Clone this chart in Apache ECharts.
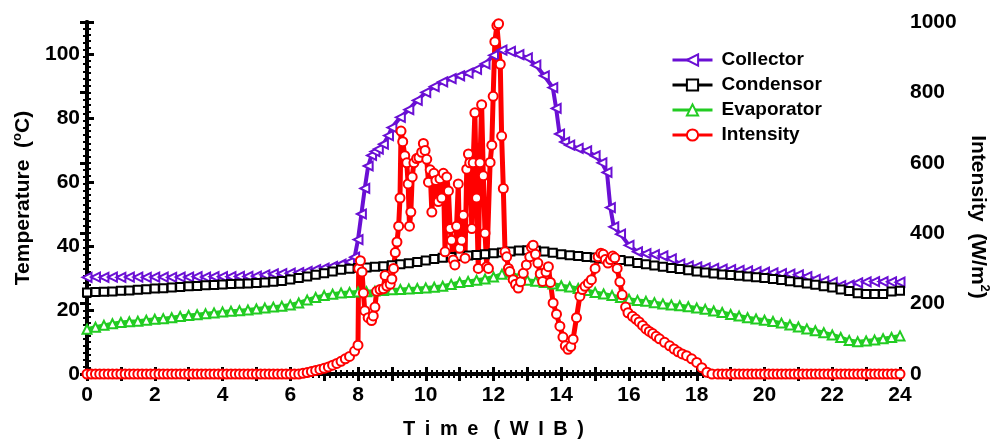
<!DOCTYPE html>
<html>
<head>
<meta charset="utf-8">
<script src="https://cdn.jsdelivr.net/npm/echarts@6/dist/echarts.min.js"></script>
<style>
html,body{margin:0;padding:0;background:#fff;}
#chart{width:993px;height:441px;}
</style>
</head>
<body>
<div id="chart"></div>
<script>
// ---- data (time in hours, WIB) ----
const collector = [[0,30.2],[0.25,30.3],[0.5,30.2],[0.75,30.3],[1,30.2],[1.25,30.3],[1.5,30.3],[1.75,30.2],[2,30.3],[2.25,30.3],[2.5,30.2],[2.75,30.3],[3,30.3],[3.25,30.4],[3.5,30.3],[3.75,30.4],[4,30.4],[4.25,30.4],[4.5,30.5],[4.75,30.5],[5,30.6],[5.25,31.0],[5.5,31.3],[5.75,31.4],[6,31.5],[6.25,31.7],[6.5,32.1],[6.75,32.6],[7,33.1],[7.25,33.6],[7.5,34.3],[7.75,35.0],[7.9,36.5],[8,42],[8.1,50],[8.2,58],[8.3,65],[8.4,68.3],[8.5,69.5],[8.6,70.3],[8.75,71.8],[8.9,74.5],[9,77],[9.25,80.2],[9.5,82.6],[9.75,85.5],[10,88],[10.25,89.8],[10.5,91.3],[10.75,92.3],[11,93.2],[11.25,94],[11.5,95.2],[11.75,96.9],[12,99.6],[12.25,101.2],[12.5,100.8],[12.75,99.8],[13,98.8],[13.25,96.5],[13.5,93.2],[13.75,89.5],[13.85,83],[13.95,75],[14.1,72.5],[14.25,71.5],[14.5,70.5],[14.75,69.7],[15,68.2],[15.2,66],[15.35,63],[15.45,52],[15.55,46],[15.75,43.7],[16,40.2],[16.25,38.2],[16.5,37.6],[16.75,37.3],[17,36.9],[17.25,36.0],[17.5,34.4],[17.75,33.8],[18,33.5],[18.25,33.2],[18.5,33.0],[18.75,32.8],[19,32.6],[19.25,32.4],[19.5,32.2],[19.75,32.0],[20,31.8],[20.25,31.6],[20.5,31.4],[20.75,31.2],[21,31.0],[21.25,30.4],[21.5,29.6],[21.75,29.0],[22,28.6],[22.25,27.6],[22.5,27.8],[22.75,28.5],[23,28.8],[23.25,28.9],[23.5,28.9],[23.75,28.8],[24,28.7]];

const condensor = [[0,25.5],[0.25,25.6],[0.5,25.7],[0.75,25.8],[1,26.0],[1.25,26.1],[1.5,26.3],[1.75,26.5],[2,26.7],[2.25,26.8],[2.5,27.0],[2.75,27.2],[3,27.4],[3.25,27.5],[3.5,27.7],[3.75,27.8],[4,28.0],[4.25,28.1],[4.5,28.2],[4.75,28.3],[5,28.4],[5.25,28.6],[5.5,28.8],[5.75,29.1],[6,29.5],[6.25,30.0],[6.5,30.5],[6.75,31.0],[7,31.5],[7.25,32.0],[7.5,32.6],[7.75,32.9],[8,33.1],[8.25,33.3],[8.5,33.5],[8.75,33.7],[9,34.0],[9.25,34.3],[9.5,34.6],[9.75,35.0],[10,35.5],[10.25,35.9],[10.5,36.3],[10.75,36.6],[11,36.8],[11.25,37.0],[11.5,37.2],[11.75,37.4],[12,37.7],[12.25,38.0],[12.5,38.3],[12.75,38.6],[13,38.7],[13.25,38.6],[13.5,38.3],[13.75,37.9],[14,37.4],[14.25,37.1],[14.5,36.9],[14.75,36.6],[15,36.4],[15.25,36.1],[15.5,35.9],[15.75,35.6],[16,35.2],[16.25,34.7],[16.5,34.3],[16.75,33.9],[17,33.5],[17.25,33.1],[17.5,32.8],[17.75,32.4],[18,32.0],[18.25,31.7],[18.5,31.4],[18.75,31.1],[19,30.9],[19.25,30.7],[19.5,30.5],[19.75,30.2],[20,30.0],[20.25,29.7],[20.5,29.4],[20.75,29.0],[21,28.7],[21.25,28.3],[21.5,27.9],[21.75,27.4],[22,27.0],[22.25,26.4],[22.5,25.9],[22.75,25.2],[23,25.0],[23.25,25.0],[23.5,25.0],[23.75,25.8],[24,26.0]];

const evaporator = [[0,14.0],[0.25,14.6],[0.5,15.2],[0.75,15.7],[1,16.1],[1.25,16.3],[1.5,16.5],[1.75,16.8],[2,17.1],[2.25,17.3],[2.5,17.6],[2.75,18.0],[3,18.3],[3.25,18.5],[3.5,18.8],[3.75,19.1],[4,19.4],[4.25,19.6],[4.5,19.8],[4.75,20.0],[5,20.3],[5.25,20.6],[5.5,20.9],[5.75,21.2],[6,21.6],[6.25,22.2],[6.5,23.1],[6.75,23.9],[7,24.5],[7.25,24.9],[7.5,25.3],[7.75,25.5],[8,25.6],[8.25,25.7],[8.5,25.9],[8.75,26.1],[9,26.3],[9.25,26.4],[9.5,26.6],[9.75,26.7],[10,26.9],[10.25,27.1],[10.5,27.4],[10.75,28.0],[11,28.6],[11.25,28.9],[11.5,29.3],[11.75,29.7],[12,30.3],[12.25,31.2],[12.5,31.8],[12.75,30.3],[13,29.3],[13.25,29.0],[13.5,28.6],[13.75,28.1],[14,27.6],[14.25,27.2],[14.5,26.7],[14.75,26.1],[15,25.5],[15.25,25.0],[15.5,24.5],[15.75,23.9],[16,23.4],[16.25,23.0],[16.5,22.7],[16.75,22.3],[17,21.9],[17.25,21.6],[17.5,21.3],[17.75,21.0],[18,20.6],[18.25,20.2],[18.5,19.7],[18.75,19.2],[19,18.6],[19.25,18.1],[19.5,17.6],[19.75,17.2],[20,16.8],[20.25,16.4],[20.5,15.9],[20.75,15.3],[21,14.7],[21.25,14.1],[21.5,13.5],[21.75,12.9],[22,12.2],[22.25,11.4],[22.5,10.5],[22.75,10.1],[23,10.3],[23.25,10.6],[23.5,11.0],[23.75,11.4],[24,11.9]];

const intensity = [[0,0],[0.125,0],[0.25,0],[0.375,0],[0.5,0],[0.625,0],[0.75,0],[0.875,0],[1,0],[1.125,0],[1.25,0],[1.375,0],[1.5,0],[1.625,0],[1.75,0],[1.875,0],[2,0],[2.125,0],[2.25,0],[2.375,0],[2.5,0],[2.625,0],[2.75,0],[2.875,0],[3,0],[3.125,0],[3.25,0],[3.375,0],[3.5,0],[3.625,0],[3.75,0],[3.875,0],[4,0],[4.125,0],[4.25,0],[4.375,0],[4.5,0],[4.625,0],[4.75,0],[4.875,0],[5,0],[5.125,0],[5.25,0],[5.375,0],[5.5,0],[5.625,0],[5.75,0],[5.875,0],[6,0],[6.125,0],[6.25,0],[6.375,2],[6.5,4],[6.625,7],[6.75,10],[6.875,13],[7,16],[7.125,20],[7.25,25],[7.375,30],[7.5,36],[7.625,43],[7.75,50],[7.9,65],[8.0,82],[8.02,300],[8.07,322],[8.12,290],[8.16,230],[8.2,180],[8.3,160],[8.4,152],[8.45,165],[8.5,190],[8.55,235],[8.65,240],[8.75,242],[8.8,280],[8.85,250],[8.95,255],[9.0,270],[9.05,300],[9.1,345],[9.15,375],[9.2,420],[9.24,500],[9.27,690],[9.32,660],[9.38,620],[9.44,600],[9.48,540],[9.52,420],[9.56,460],[9.6,560],[9.65,600],[9.73,612],[9.8,615],[9.88,630],[9.93,655],[9.98,635],[10.03,610],[10.08,545],[10.13,580],[10.18,460],[10.24,570],[10.3,550],[10.37,490],[10.42,555],[10.47,500],[10.52,570],[10.57,347],[10.62,560],[10.67,520],[10.72,413],[10.76,380],[10.81,324],[10.86,310],[10.91,420],[10.96,540],[11.0,357],[11.06,380],[11.11,451],[11.16,329],[11.21,582],[11.26,625],[11.3,600],[11.36,413],[11.4,600],[11.45,742],[11.5,500],[11.55,300],[11.6,600],[11.65,765],[11.7,563],[11.75,400],[11.8,305],[11.85,300],[11.9,601],[11.95,650],[11.99,789],[12.04,944],[12.1,990],[12.15,995],[12.2,880],[12.24,676],[12.29,527],[12.34,347],[12.39,333],[12.44,300],[12.48,291],[12.58,268],[12.65,255],[12.73,244],[12.8,262],[12.88,286],[12.97,310],[13.07,333],[13.12,360],[13.17,366],[13.24,340],[13.31,315],[13.38,285],[13.45,263],[13.55,290],[13.62,305],[13.68,260],[13.76,202],[13.86,170],[13.96,136],[14.05,105],[14.12,80],[14.2,70],[14.28,78],[14.35,99],[14.45,160],[14.55,221],[14.62,240],[14.7,249],[14.8,258],[14.89,268],[15.0,300],[15.09,333],[15.17,343],[15.24,340],[15.3,325],[15.38,315],[15.45,325],[15.52,335],[15.58,330],[15.65,300],[15.73,262],[15.8,225],[15.9,190],[15.97,174],[16.1,164],[16.2,156],[16.3,148],[16.4,138],[16.5,128],[16.6,121],[16.7,115],[16.8,107],[16.9,100],[17.05,90],[17.2,80],[17.33,71],[17.45,63],[17.57,57],[17.7,52],[17.85,43],[18.0,33],[18.15,18],[18.3,5],[18.45,0],[18.625,0],[18.75,0],[18.875,0],[19,0],[19.125,0],[19.25,0],[19.375,0],[19.5,0],[19.625,0],[19.75,0],[19.875,0],[20,0],[20.125,0],[20.25,0],[20.375,0],[20.5,0],[20.625,0],[20.75,0],[20.875,0],[21,0],[21.125,0],[21.25,0],[21.375,0],[21.5,0],[21.625,0],[21.75,0],[21.875,0],[22,0],[22.125,0],[22.25,0],[22.375,0],[22.5,0],[22.625,0],[22.75,0],[22.875,0],[23,0],[23.125,0],[23.25,0],[23.375,0],[23.5,0],[23.625,0],[23.75,0],[23.875,0],[24,0]];

const seriesNames = ['Collector','Condensor','Evaporator','Intensity'];
const timeTicks = [0,2,4,6,8,10,12,14,16,18,20,22,24];

const FONT = 'Liberation Sans, Arial, sans-serif';
const chart = echarts.init(document.getElementById('chart'), null, {renderer:'canvas'});

const axisLine = {show:true, lineStyle:{color:'#000', width:4}};
const baseLabel = {color:'#000', fontFamily:FONT, fontWeight:'bold', fontSize:21};
const tick = {inside:true, length:7, lineStyle:{color:'#000', width:3}};
const nameRich = {
  a:{color:'#000', fontFamily:FONT, fontWeight:'bold', fontSize:21, lineHeight:26},
  s:{color:'#000', fontFamily:FONT, fontWeight:'bold', fontSize:13, verticalAlign:'top', lineHeight:26}
};

const option = {
  backgroundColor:'#fff',
  animation:false,
  grid:{left:87, right:93, top:22, bottom:67, containLabel:false, outerBoundsMode:'none'},
  legend:{
    orient:'vertical', left:666, top:45, padding:5,
    itemWidth:40, itemHeight:14, itemGap:5,
    data:seriesNames,
    lineStyle:{width:3},
    textStyle:{color:'#000', fontFamily:FONT, fontWeight:'bold', fontSize:19, lineHeight:20, padding:[0,0,0,4]}
  },
  xAxis:[{
    type:'value', position:'bottom', min:0, max:24, interval:1,
    name:'T\u2009 i\u2009 m\u2009 e\u2009  (\u2009 W\u2009 I\u2009 B\u2009 )', nameLocation:'middle', nameGap:45,
    nameTextStyle:{color:'#000', fontFamily:FONT, fontWeight:'bold', fontSize:20},
    axisLine:axisLine, axisTick:tick,
    minorTick:{show:true, splitNumber:6, length:4, lineStyle:{color:'#000', width:2}},
    axisLabel:{...baseLabel, margin:11, formatter:v=> timeTicks.indexOf(v)>=0 ? String(v) : ''},
    splitLine:{show:false}
  },{
    type:'value', position:'top', min:0, max:24, interval:1,
    axisLine:axisLine, axisTick:tick,
    minorTick:{show:true, splitNumber:6, length:4, lineStyle:{color:'#000', width:2}},
    axisLabel:{show:false}, splitLine:{show:false}
  }],
  yAxis:[{
    type:'value', position:'left', min:0, max:110, interval:20,
    name:'{a|Temperature  (}{s|o}{a|C)}', nameLocation:'middle', nameGap:42, nameRotate:90,
    nameTextStyle:{rich:nameRich},
    axisLine:axisLine, axisTick:tick,
    minorTick:{show:true, splitNumber:10, length:4, lineStyle:{color:'#000', width:2}},
    axisLabel:{...baseLabel, margin:7, formatter:v=> v<=100 ? String(v) : ''},
    splitLine:{show:false}
  },{
    type:'value', position:'right', min:0, max:1000, interval:200,
    name:'{a|Intensity  (W/m}{s|2}{a|)}', nameLocation:'middle', nameGap:65, nameRotate:-90,
    nameTextStyle:{rich:nameRich, padding:[0,0,0,38]},
    axisLine:axisLine, axisTick:tick,
    minorTick:{show:true, splitNumber:10, length:4, lineStyle:{color:'#000', width:2}},
    axisLabel:{...baseLabel, margin:10, formatter:v=>String(v)},
    splitLine:{show:false}
  }],
  series:[{
    name:'Collector', type:'line', xAxisIndex:0, yAxisIndex:0, data:collector,
    color:'#6a0fd4', symbol:'emptyTriangle', symbolRotate:90, symbolSize:9,
    lineStyle:{width:4, color:'#6a0fd4'}, itemStyle:{color:'#6a0fd4', borderWidth:1.5},
    clip:false
  },{
    name:'Condensor', type:'line', xAxisIndex:0, yAxisIndex:0, data:condensor,
    color:'#000', symbol:'emptyRect', symbolSize:8,
    lineStyle:{width:4, color:'#000'}, itemStyle:{color:'#000', borderWidth:1.5},
    clip:false
  },{
    name:'Evaporator', type:'line', xAxisIndex:0, yAxisIndex:0, data:evaporator,
    color:'#22cc22', symbol:'emptyTriangle', symbolSize:9,
    lineStyle:{width:4, color:'#22cc22'}, itemStyle:{color:'#22cc22', borderWidth:1.5},
    clip:false
  },{
    name:'Intensity', type:'line', xAxisIndex:0, yAxisIndex:1, data:intensity,
    color:'#ff0000', symbol:'emptyCircle', symbolSize:9,
    lineStyle:{width:5, color:'#ff0000'}, itemStyle:{color:'#ff0000', borderWidth:1.5},
    clip:false
  }]
};
chart.setOption(option);
</script>
</body>
</html>
